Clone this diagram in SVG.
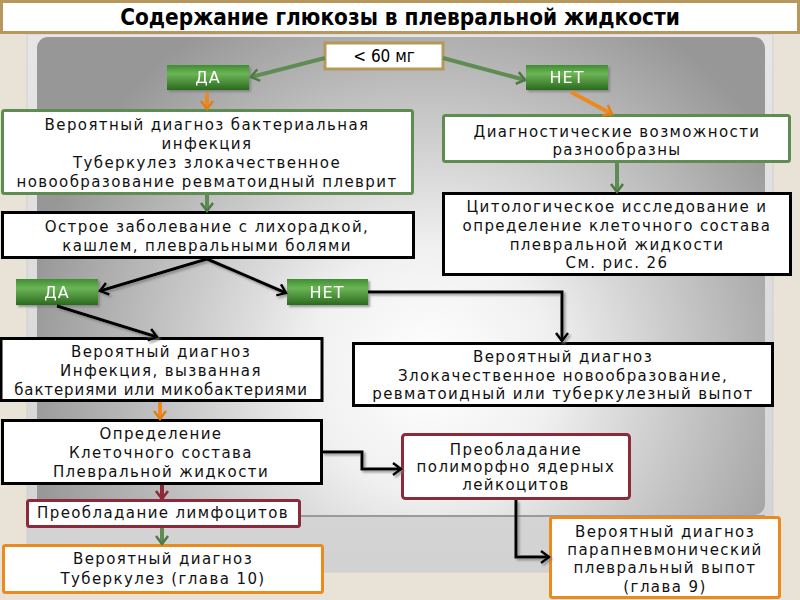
<svg xmlns="http://www.w3.org/2000/svg" width="800" height="600" viewBox="0 0 800 600">
<defs>
<style>
.t{font-family:"DejaVu Sans","Liberation Sans",sans-serif;font-size:15px;letter-spacing:1.4px;fill:#111;text-anchor:middle}
.box{fill:#fff;stroke-width:3}
.g{stroke:#5e8c52}
.k{stroke:#000}
.r{stroke:#8c2a3c}
.o{stroke:#ec8a1e}
.btn{fill:url(#btn)}
.bt{font-family:"DejaVu Sans","Liberation Sans",sans-serif;font-size:16px;fill:#fff;text-anchor:middle;letter-spacing:1px}
.cg{stroke:#5e8c52;stroke-width:4;fill:none}
.co{stroke:#ec8a1e;stroke-width:4;fill:none}
.cr{stroke:#8c2a3c;stroke-width:4;fill:none}
.ck{stroke:#000;stroke-width:3;fill:none}
</style>
<radialGradient id="bg" gradientUnits="userSpaceOnUse" cx="430" cy="370" r="410">
<stop offset="0" stop-color="#ffffff"/>
<stop offset="0.3" stop-color="#f0f0f0"/>
<stop offset="1" stop-color="#979797"/>
</radialGradient>
<linearGradient id="btn" x1="0" y1="0" x2="0" y2="1">
<stop offset="0" stop-color="#3f8d33"/>
<stop offset="0.35" stop-color="#6cb556"/>
<stop offset="1" stop-color="#2a6a1e"/>
</linearGradient>
<linearGradient id="band" x1="0" y1="0" x2="0" y2="1">
<stop offset="0" stop-color="#e6e6e6"/>
<stop offset="1" stop-color="#d2d2d2"/>
</linearGradient>
<filter id="sh" x="-20%" y="-20%" width="140%" height="160%">
<feDropShadow dx="2" dy="2" stdDeviation="0.8" flood-color="#777" flood-opacity="0.7"/>
</filter>
<marker id="mg" markerUnits="userSpaceOnUse" markerWidth="14" markerHeight="14" refX="10" refY="7" orient="auto">
<path d="M2,1 L10,7 L2,13" fill="none" stroke="#4f7a45" stroke-width="2.5"/>
</marker>
<marker id="mo" markerUnits="userSpaceOnUse" markerWidth="14" markerHeight="14" refX="10" refY="7" orient="auto">
<path d="M2,1 L10,7 L2,13" fill="none" stroke="#e07f18" stroke-width="2.5"/>
</marker>
<marker id="mr" markerUnits="userSpaceOnUse" markerWidth="14" markerHeight="14" refX="10" refY="7" orient="auto">
<path d="M2,1 L10,7 L2,13" fill="none" stroke="#8c2a3c" stroke-width="2.5"/>
</marker>
<marker id="mk" markerUnits="userSpaceOnUse" markerWidth="14" markerHeight="14" refX="10" refY="7" orient="auto">
<path d="M2,1 L10,7 L2,13" fill="none" stroke="#000" stroke-width="2.5"/>
</marker>
</defs>

<rect x="0" y="0" width="800" height="600" fill="#e9e3d7"/>
<rect x="27" y="34" width="746" height="538" fill="url(#band)" stroke="#cfcfcf" stroke-width="1"/>
<rect x="37" y="37" width="728" height="478" rx="11" fill="url(#bg)"/>
<line x1="40" y1="516" x2="765" y2="516" stroke="#9a9a9a" stroke-width="2"/>

<g id="title">
<rect x="1.5" y="1.5" width="797" height="31" fill="#fff" stroke="#b8975c" stroke-width="3"/>
<text x="400" y="25" font-family="'DejaVu Sans Condensed','DejaVu Sans',sans-serif" font-stretch="condensed" font-weight="bold" font-size="22.4" text-anchor="middle" fill="#000">Содержание глюкозы в плевральной жидкости</text>
</g>

<g id="n-lt60">
<rect x="325" y="43" width="118" height="26" fill="#fff" stroke="#b8975c" stroke-width="3"/>
<text x="384" y="62" font-family="'DejaVu Sans Condensed','DejaVu Sans',sans-serif" font-stretch="condensed" font-size="17" text-anchor="middle" fill="#000">&lt; 60 мг</text>
</g>

<g id="n-da1" filter="url(#sh)">
<rect class="btn" x="167" y="65" width="82" height="25"/>
<text class="bt" x="208" y="83">ДА</text>
</g>
<g id="n-net1" filter="url(#sh)">
<rect class="btn" x="526" y="65" width="82" height="25"/>
<text class="bt" x="567" y="83">НЕТ</text>
</g>

<g id="n-a">
<rect class="box g" x="2.5" y="110.5" width="410" height="83" rx="2"/>
<text class="t" x="207" y="130">Вероятный диагноз бактериальная</text>
<text class="t" x="207" y="149">инфекция</text>
<text class="t" x="207" y="168">Туберкулез злокачественное</text>
<text class="t" x="207" y="187">новообразование ревматоидный плеврит</text>
</g>

<g id="n-b">
<rect class="box k" x="2.5" y="212.5" width="411" height="45"/>
<text class="t" x="207" y="232">Острое заболевание с лихорадкой,</text>
<text class="t" x="207" y="251">кашлем, плевральными болями</text>
</g>

<g id="n-diag">
<rect class="box g" x="443.5" y="115.5" width="346" height="46" rx="2"/>
<text class="t" x="617" y="137">Диагностические возможности</text>
<text class="t" x="617" y="155">разнообразны</text>
</g>

<g id="n-cyto">
<rect class="box k" x="443.5" y="193.5" width="347" height="81"/>
<text class="t" x="617" y="212">Цитологическое исследование и</text>
<text class="t" x="617" y="231">определение клеточного состава</text>
<text class="t" x="617" y="250">плевральной жидкости</text>
<text class="t" x="617" y="268">См. рис. 26</text>
</g>

<g id="n-da2" filter="url(#sh)">
<rect class="btn" x="16" y="279" width="82" height="26"/>
<text class="bt" x="57" y="298">ДА</text>
</g>
<g id="n-net2" filter="url(#sh)">
<rect class="btn" x="287" y="279" width="81" height="26"/>
<text class="bt" x="327" y="298">НЕТ</text>
</g>

<g id="n-c">
<rect class="box k" x="1" y="338.5" width="321" height="62"/>
<text class="t" x="161" y="357">Вероятный диагноз</text>
<text class="t" x="161" y="376">Инфекция, вызванная</text>
<text class="t" x="161" y="395" style="letter-spacing:0.9px">бактериями или микобактериями</text>
</g>

<g id="n-d">
<rect class="box k" x="353.5" y="343.5" width="419" height="62"/>
<text class="t" x="563" y="362">Вероятный диагноз</text>
<text class="t" x="563" y="381">Злокачественное новообразование,</text>
<text class="t" x="563" y="399">ревматоидный или туберкулезный выпот</text>
</g>

<g id="n-e">
<rect class="box k" x="2.5" y="420.5" width="319" height="63"/>
<text class="t" x="161" y="439">Определение</text>
<text class="t" x="161" y="458">Клеточного состава</text>
<text class="t" x="161" y="477">Плевральной жидкости</text>
</g>

<g id="n-f">
<rect class="box r" x="402.5" y="434.5" width="227" height="64" rx="3"/>
<text class="t" x="516" y="455">Преобладание</text>
<text class="t" x="516" y="472">полиморфно ядерных</text>
<text class="t" x="516" y="490">лейкоцитов</text>
</g>

<g id="n-g">
<rect class="box r" x="27.5" y="500.5" width="272" height="26" rx="2"/>
<text class="t" x="163" y="518">Преобладание лимфоцитов</text>
</g>

<g id="n-h">
<rect class="box o" x="3.5" y="545.5" width="319" height="47" rx="2"/>
<text class="t" x="163" y="564">Вероятный диагноз</text>
<text class="t" x="163" y="584">Туберкулез (глава 10)</text>
</g>

<g id="n-i">
<rect class="box o" x="550.5" y="517.5" width="229" height="80" rx="2"/>
<text class="t" x="665" y="537">Вероятный диагноз</text>
<text class="t" x="665" y="555">парапневмонический</text>
<text class="t" x="665" y="573">плевральный выпот</text>
<text class="t" x="665" y="592">(глава 9)</text>
</g>

<g id="connectors">
<path class="cg" d="M325,58 L251,77" marker-end="url(#mg)"/>
<path class="cg" d="M443,58 L525,80" marker-end="url(#mg)"/>
<path class="co" d="M207,93 L207,109" marker-end="url(#mo)"/>
<path class="co" d="M571,92 L612,114" marker-end="url(#mo)"/>
<path class="cg" d="M207,195 L207,211" marker-end="url(#mg)"/>
<path class="cg" d="M617,163 L617,192" marker-end="url(#mg)"/>
<g filter="url(#sh)">
<path class="ck" d="M207,259 L100,291" marker-end="url(#mk)"/>
<path class="ck" d="M207,259 L286,293" marker-end="url(#mk)"/>
<path class="ck" d="M368,292 L562,292 L562,341" marker-end="url(#mk)"/>
<path class="ck" d="M57,306 L157,337" marker-end="url(#mk)"/>
<path class="ck" d="M322,452 L362,452 L362,469 L401,469" marker-end="url(#mk)"/>
<path class="ck" d="M516,500 L516,557 L549,557" marker-end="url(#mk)"/>
</g>
<path class="co" d="M160,402 L160,419" marker-end="url(#mo)"/>
<path class="cr" d="M162,485 L162,499" marker-end="url(#mr)"/>
<path class="cg" d="M162,528 L162,544" marker-end="url(#mg)"/>
</g>
</svg>
